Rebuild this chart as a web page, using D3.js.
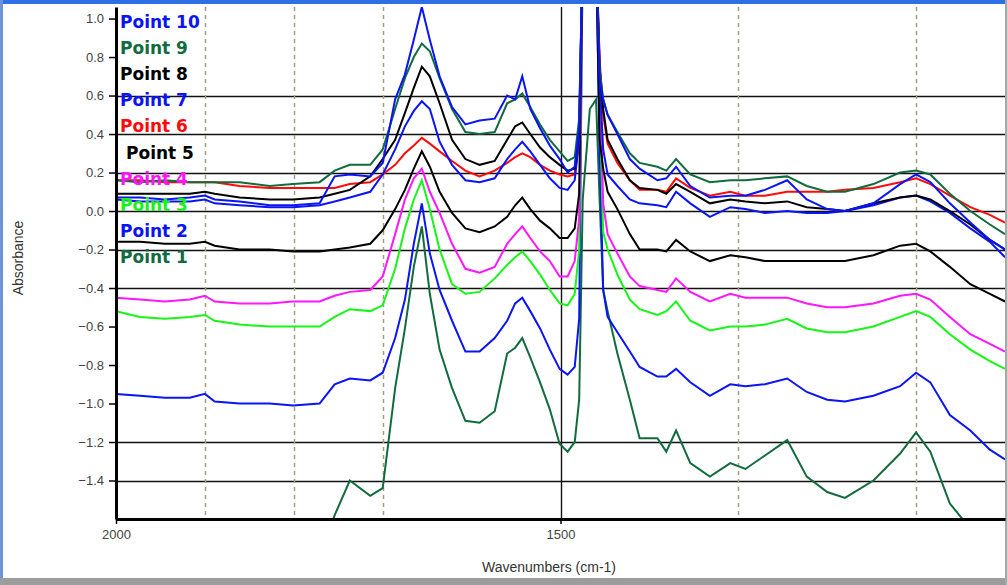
<!DOCTYPE html>
<html lang="en">
<head>
<meta charset="utf-8">
<title>Absorbance spectra - Points 1 to 10</title>
<script src="https://d3js.org/d3.v7.min.js"></script>
<style>
  html, body { margin: 0; padding: 0; background: #fff; }
  .tick text { font: 13px "Liberation Sans", Arial, sans-serif; fill: #444; }
  .axis-title { font: 14px "Liberation Sans", Arial, sans-serif; fill: #333; }
  .legend-label { font: bold 17px "DejaVu Sans", sans-serif; }
</style>
</head>
<body>
<script>
// wavenumber grid (cm-1), shared by all spectra
var wavenumbers = [2000, 1973, 1945, 1917, 1900, 1889, 1861, 1827, 1801, 1771,
  1754, 1737, 1714, 1700, 1686, 1675, 1665, 1656, 1647, 1636,
  1622, 1607, 1591, 1574, 1560, 1551, 1543, 1534, 1523, 1512,
  1501, 1492, 1484, 1479, 1475, 1467, 1460, 1456, 1452, 1447,
  1436, 1422, 1411, 1391, 1381, 1370, 1354, 1332, 1309, 1292,
  1270, 1245, 1223, 1200, 1180, 1148, 1118, 1100, 1084, 1062,
  1039, 1017, 1000];

// absorbance (values beyond the axis are clipped)
var point1 = [-1.8, -1.8, -1.8, -1.8, -1.8, -1.8, -1.8, -1.8, -1.8, -1.8,
  -1.58, -1.40, -1.48, -1.44, -0.92, -0.61, -0.29, -0.08, -0.43, -0.72,
  -0.92, -1.09, -1.10, -1.04, -0.74, -0.71, -0.66, -0.76, -0.89, -1.03,
  -1.21, -1.25, -1.20, -0.98, 0.06, 0.53, 0.58, 0.06, -0.41, -0.52,
  -0.74, -0.98, -1.18, -1.18, -1.25, -1.14, -1.31, -1.38, -1.31, -1.34,
  -1.27, -1.19, -1.38, -1.46, -1.49, -1.40, -1.26, -1.15, -1.25, -1.52,
  -1.65, -1.8, -1.8];
var point2 = [-0.95, -0.96, -0.97, -0.97, -0.95, -0.99, -1.00, -1.00, -1.01, -1.00,
  -0.90, -0.87, -0.88, -0.84, -0.66, -0.46, -0.17, 0.04, -0.22, -0.41,
  -0.57, -0.73, -0.73, -0.66, -0.57, -0.48, -0.45, -0.52, -0.61, -0.72,
  -0.82, -0.85, -0.81, -0.56, 1.35, 1.35, 1.35, 0.32, -0.41, -0.55,
  -0.63, -0.73, -0.81, -0.86, -0.86, -0.82, -0.89, -0.96, -0.90, -0.91,
  -0.90, -0.87, -0.94, -0.98, -0.99, -0.96, -0.91, -0.84, -0.89, -1.06,
  -1.14, -1.24, -1.29];
var point3 = [-0.52, -0.55, -0.56, -0.55, -0.54, -0.57, -0.59, -0.60, -0.60, -0.60,
  -0.55, -0.51, -0.52, -0.49, -0.30, -0.09, 0.06, 0.16, 0.01, -0.20,
  -0.38, -0.43, -0.42, -0.35, -0.28, -0.24, -0.21, -0.26, -0.33, -0.41,
  -0.48, -0.49, -0.43, -0.20, 1.35, 1.35, 1.35, 0.57, -0.11, -0.20,
  -0.33, -0.46, -0.51, -0.54, -0.52, -0.47, -0.57, -0.62, -0.60, -0.60,
  -0.59, -0.56, -0.61, -0.63, -0.63, -0.60, -0.55, -0.52, -0.55, -0.64,
  -0.72, -0.78, -0.82];
var point4 = [-0.45, -0.46, -0.47, -0.46, -0.44, -0.47, -0.48, -0.48, -0.47, -0.47,
  -0.44, -0.42, -0.41, -0.34, -0.12, 0.06, 0.17, 0.22, 0.10, -0.01,
  -0.17, -0.30, -0.32, -0.29, -0.17, -0.12, -0.08, -0.14, -0.21, -0.26,
  -0.34, -0.34, -0.26, -0.04, 1.35, 1.35, 1.35, 0.79, 0.04, -0.12,
  -0.22, -0.34, -0.39, -0.41, -0.42, -0.35, -0.42, -0.47, -0.43, -0.45,
  -0.45, -0.45, -0.48, -0.50, -0.50, -0.48, -0.44, -0.43, -0.46, -0.55,
  -0.64, -0.69, -0.73];
var point5 = [-0.16, -0.16, -0.17, -0.17, -0.16, -0.18, -0.20, -0.20, -0.21, -0.21,
  -0.20, -0.19, -0.17, -0.10, 0.01, 0.11, 0.22, 0.31, 0.23, 0.10,
  -0.01, -0.09, -0.11, -0.08, -0.03, 0.03, 0.07, 0.01, -0.05, -0.09,
  -0.14, -0.14, -0.09, 0.09, 1.35, 1.35, 1.35, 0.37, 0.22, 0.10,
  0.01, -0.12, -0.20, -0.20, -0.21, -0.15, -0.21, -0.26, -0.23, -0.24,
  -0.26, -0.26, -0.26, -0.26, -0.26, -0.23, -0.18, -0.17, -0.21, -0.29,
  -0.38, -0.43, -0.47];
var point6 = [0.16, 0.16, 0.15, 0.15, 0.15, 0.15, 0.13, 0.12, 0.12, 0.12,
  0.12, 0.14, 0.15, 0.19, 0.24, 0.30, 0.34, 0.38, 0.35, 0.31,
  0.26, 0.21, 0.18, 0.21, 0.25, 0.28, 0.30, 0.28, 0.24, 0.21,
  0.19, 0.18, 0.19, 0.37, 1.35, 1.35, 1.35, 0.79, 0.50, 0.35,
  0.25, 0.16, 0.11, 0.11, 0.10, 0.17, 0.12, 0.08, 0.10, 0.08,
  0.08, 0.10, 0.10, 0.10, 0.11, 0.12, 0.15, 0.17, 0.14, 0.08,
  0.02, -0.02, -0.06];
var point7 = [0.06, 0.05, 0.05, 0.05, 0.06, 0.04, 0.03, 0.02, 0.02, 0.03,
  0.05, 0.07, 0.10, 0.19, 0.32, 0.44, 0.52, 0.57, 0.53, 0.36,
  0.24, 0.16, 0.15, 0.17, 0.27, 0.32, 0.36, 0.31, 0.24, 0.17,
  0.12, 0.11, 0.16, 0.37, 1.35, 1.35, 1.35, 0.69, 0.32, 0.19,
  0.13, 0.06, 0.04, 0.03, 0.02, 0.10, 0.04, -0.03, 0.02, 0.01,
  -0.01, 0.00, -0.01, -0.01, 0.00, 0.03, 0.07, 0.08, 0.05, -0.01,
  -0.09, -0.16, -0.24];
var point8 = [0.09, 0.09, 0.09, 0.09, 0.10, 0.09, 0.07, 0.06, 0.06, 0.07,
  0.09, 0.11, 0.18, 0.27, 0.37, 0.51, 0.64, 0.75, 0.70, 0.56,
  0.37, 0.27, 0.24, 0.26, 0.37, 0.44, 0.46, 0.40, 0.33, 0.28,
  0.24, 0.21, 0.22, 0.43, 1.35, 1.35, 1.35, 0.75, 0.53, 0.37,
  0.27, 0.16, 0.12, 0.11, 0.09, 0.14, 0.10, 0.04, 0.06, 0.05,
  0.04, 0.05, 0.02, 0.01, 0.00, 0.04, 0.07, 0.08, 0.06, 0.00,
  -0.07, -0.15, -0.20];
var point9 = [0.16, 0.15, 0.16, 0.15, 0.15, 0.15, 0.15, 0.13, 0.14, 0.15,
  0.21, 0.24, 0.24, 0.32, 0.53, 0.69, 0.80, 0.87, 0.83, 0.69,
  0.53, 0.41, 0.40, 0.41, 0.56, 0.58, 0.61, 0.54, 0.45, 0.37,
  0.31, 0.26, 0.28, 0.48, 1.35, 1.35, 1.35, 0.74, 0.58, 0.50,
  0.41, 0.30, 0.25, 0.23, 0.21, 0.27, 0.19, 0.15, 0.16, 0.16,
  0.17, 0.18, 0.13, 0.10, 0.10, 0.14, 0.20, 0.21, 0.19, 0.09,
  0.00, -0.07, -0.12];
var point10 = [0.07, 0.07, 0.06, 0.07, 0.08, 0.06, 0.05, 0.03, 0.03, 0.04,
  0.18, 0.19, 0.18, 0.25, 0.58, 0.71, 0.89, 1.06, 0.89, 0.70,
  0.54, 0.45, 0.47, 0.48, 0.60, 0.58, 0.70, 0.53, 0.43, 0.34,
  0.27, 0.20, 0.23, 0.43, 1.35, 1.35, 1.35, 0.69, 0.58, 0.50,
  0.40, 0.27, 0.22, 0.16, 0.17, 0.23, 0.13, 0.07, 0.08, 0.08,
  0.11, 0.16, 0.06, 0.01, 0.00, 0.04, 0.14, 0.19, 0.15, 0.04,
  -0.06, -0.15, -0.20];

var seriesNames = ["Point 1", "Point 2", "Point 3", "Point 4", "Point 5",
  "Point 6", "Point 7", "Point 8", "Point 9", "Point 10"];
var seriesValues = [point1, point2, point3, point4, point5,
  point6, point7, point8, point9, point10];
var seriesColors = ["#116b3e", "#0a14f5", "#16f516", "#ff16ff", "#000000",
  "#ff0a0a", "#0a14f5", "#000000", "#116b3e", "#0a14f5"];

var yTicks = [1.0, 0.8, 0.6, 0.4, 0.2, 0.0, -0.2, -0.4, -0.6, -0.8, -1.0, -1.2, -1.4];
var yGridLines = [0.6, 0.4, 0.2, 0.0, -0.2, -0.4, -1.2, -1.4];
var xTicks = [2000, 1500];
var xDashedLines = [1900, 1800, 1700, 1300, 1100];
var xSolidLines = [1500];

var width = 1007, height = 585;
var plotLeft = 116, plotRight = 1005, plotTop = 7, plotBottom = 519;

var svg = d3.select("body").append("svg")
  .attr("width", width)
  .attr("height", height);

// window frame
svg.append("rect").attr("x", 0).attr("y", 0).attr("width", width).attr("height", height).attr("fill", "#fff");
svg.append("rect").attr("x", 0).attr("y", 0).attr("width", width).attr("height", 4).attr("fill", "#2f6fe6");
svg.append("rect").attr("x", 0).attr("y", 0).attr("width", 3).attr("height", height).attr("fill", "#6f93d8");
svg.append("rect").attr("x", 0).attr("y", 578).attr("width", width).attr("height", 7).attr("fill", "#9c9c9c");
svg.append("rect").attr("x", 1005).attr("y", 0).attr("width", 2).attr("height", height).attr("fill", "#a8a8a8");

var x = d3.scaleLinear().domain([2000, 1000]).range([plotLeft, plotRight]);
var y = d3.scaleLinear().domain([-1.6, 1.06]).range([plotBottom, plotTop]);

svg.append("defs").append("clipPath").attr("id", "plot-clip")
  .append("rect")
  .attr("x", plotLeft).attr("y", plotTop)
  .attr("width", plotRight - plotLeft).attr("height", plotBottom - plotTop);

// gridlines
svg.append("g").selectAll("line")
  .data(yGridLines)
  .enter().append("line")
  .attr("x1", plotLeft).attr("x2", plotRight)
  .attr("y1", d => Math.round(y(d)) + 0.5).attr("y2", d => Math.round(y(d)) + 0.5)
  .attr("stroke", "#111").attr("stroke-width", 1.4);

svg.append("g").selectAll("line")
  .data(xDashedLines)
  .enter().append("line")
  .attr("x1", d => Math.round(x(d)) + 0.5).attr("x2", d => Math.round(x(d)) + 0.5)
  .attr("y1", plotTop).attr("y2", plotBottom)
  .attr("stroke", "#a39d82").attr("stroke-width", 1.5)
  .attr("stroke-dasharray", "4,4");

svg.append("g").selectAll("line")
  .data(xSolidLines)
  .enter().append("line")
  .attr("x1", d => Math.round(x(d)) + 0.5).attr("x2", d => Math.round(x(d)) + 0.5)
  .attr("y1", plotTop).attr("y2", plotBottom)
  .attr("stroke", "#111").attr("stroke-width", 1.4);

// spectra
var line = d3.line()
  .x((d, i) => x(wavenumbers[i]))
  .y(d => y(d));

svg.append("g").attr("clip-path", "url(#plot-clip)")
  .selectAll("path")
  .data(seriesValues)
  .enter().append("path")
  .attr("d", line)
  .attr("fill", "none")
  .attr("stroke", (d, i) => seriesColors[i])
  .attr("stroke-width", 2)
  .attr("stroke-linejoin", "miter");

// axes
var yAxis = svg.append("g")
  .attr("transform", "translate(" + plotLeft + ",0)")
  .call(d3.axisLeft(y).tickValues(yTicks).tickSize(7).tickSizeOuter(0).tickPadding(5)
    .tickFormat(d3.format(".1f")));
var xAxis = svg.append("g")
  .attr("transform", "translate(0," + plotBottom + ")")
  .call(d3.axisBottom(x).tickValues(xTicks).tickSize(5).tickSizeOuter(0).tickPadding(6)
    .tickFormat(d3.format("d")));
[yAxis, xAxis].forEach(function(a) {
  a.select(".domain").attr("stroke", "#000").attr("stroke-width", 3);
  a.selectAll(".tick line").attr("stroke", "#000").attr("stroke-width", 1.5);
});

svg.append("text")
  .attr("class", "axis-title")
  .attr("x", 549).attr("y", 572)
  .attr("text-anchor", "middle")
  .text("Wavenumbers (cm-1)");

svg.append("text")
  .attr("class", "axis-title")
  .attr("transform", "translate(23,258) rotate(-90)")
  .attr("text-anchor", "middle")
  .text("Absorbance");

// legend, top to bottom: Point 10 ... Point 1
var legendOrder = d3.range(seriesNames.length).reverse();
svg.append("g").selectAll("text")
  .data(legendOrder)
  .enter().append("text")
  .attr("class", "legend-label")
  .attr("x", d => d === 4 ? 126 : 120)
  .attr("y", (d, i) => 28 + i * 26.1)
  .attr("fill", d => seriesColors[d])
  .text(d => seriesNames[d]);
</script>
</body>
</html>
